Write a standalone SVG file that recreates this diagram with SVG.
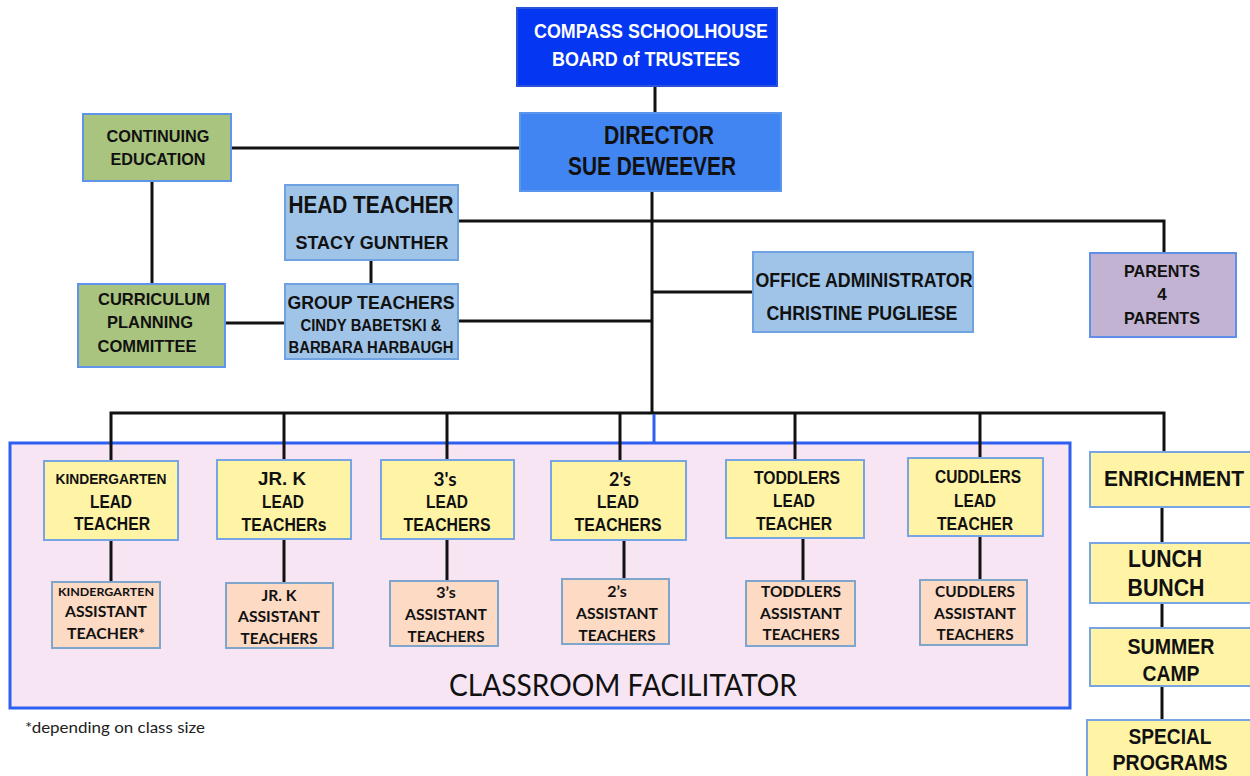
<svg xmlns="http://www.w3.org/2000/svg" width="1250" height="776" viewBox="0 0 1250 776">
  <style>
    .lbl { font-family: "Liberation Sans Narrow", "Liberation Sans", Arial, sans-serif; font-weight: bold; text-anchor: middle; fill: #111; }
    .cal { font-family: Lato, "Open Sans", "Liberation Sans", sans-serif; font-weight: bold; text-anchor: middle; fill: #111; }
    .wht { fill: #ffffff; }
    .board { fill: #0536f2; stroke: #2a52d6; stroke-width: 2; }
    .dir { fill: #4185f2; stroke: #5b95ee; stroke-width: 2; }
    .lblue { fill: #9fc4e7; stroke: #6fa2e0; stroke-width: 2; }
    .green { fill: #a9c47e; stroke: #5f94ea; stroke-width: 2; }
    .purple { fill: #c2b3d2; stroke: #5f8fe6; stroke-width: 2; }
    .yellow { fill: #fff4a6; stroke: #77a5e4; stroke-width: 2; }
    .peach { fill: #fcdac4; stroke: #7ea6cc; stroke-width: 2; }
    .wire { fill: none; stroke: #111; stroke-width: 3; }
  </style>

  <rect width="1250" height="776" fill="#ffffff"/>

  <!-- classroom frame -->
  <g id="classroom-frame">
    <rect x="10" y="443" width="1060" height="265" fill="#f7e5f4" stroke="#2f5ff0" stroke-width="3"/>
    <text x="623" y="696" font-family="Lato, 'Open Sans', 'Liberation Sans', sans-serif" font-size="30" text-anchor="middle" fill="#111" textLength="348" lengthAdjust="spacingAndGlyphs">CLASSROOM FACILITATOR</text>
  </g>

  <!-- connectors -->
  <g id="connectors">
    <path class="wire" d="M655 86 V113"/>
    <path class="wire" d="M231 148 H520"/>
    <path class="wire" d="M152 181 V284"/>
    <path class="wire" d="M225 323 H285"/>
    <path class="wire" d="M371 260 V284"/>
    <path class="wire" d="M458 221 H1164 V253"/>
    <path class="wire" d="M652 191 V413"/>
    <path class="wire" d="M652 292 H753"/>
    <path class="wire" d="M458 321 H652"/>
    <path class="wire" d="M111 461 V413 H1164 V452"/>
    <path class="wire" d="M284 413 V460"/>
    <path class="wire" d="M447 413 V460"/>
    <path class="wire" d="M620 413 V461"/>
    <path class="wire" d="M795 413 V460"/>
    <path class="wire" d="M980 413 V458"/>
    <path d="M654 414 V443" fill="none" stroke="#2f5ff0" stroke-width="3"/>
    <path class="wire" d="M111 540 V582"/>
    <path class="wire" d="M284 539 V583"/>
    <path class="wire" d="M447 539 V581"/>
    <path class="wire" d="M624 540 V579"/>
    <path class="wire" d="M803 538 V581"/>
    <path class="wire" d="M980 536 V580"/>
    <path class="wire" d="M1162 507 V720"/>
  </g>

  <g id="board">
    <rect class="board" x="517" y="8" width="260" height="78"/>
    <text class="lbl wht" x="651" y="38" font-size="21" textLength="234" lengthAdjust="spacingAndGlyphs">COMPASS SCHOOLHOUSE</text>
    <text class="lbl wht" x="646" y="66" font-size="21" textLength="188" lengthAdjust="spacingAndGlyphs">BOARD of TRUSTEES</text>
  </g>

  <g id="director">
    <rect class="dir" x="520" y="113" width="261" height="78"/>
    <text class="lbl" x="659" y="144" font-size="26" textLength="110" lengthAdjust="spacingAndGlyphs">DIRECTOR</text>
    <text class="lbl" x="652" y="175" font-size="26" textLength="168" lengthAdjust="spacingAndGlyphs">SUE DEWEEVER</text>
  </g>

  <g id="continuing-education">
    <rect class="green" x="83" y="114" width="148" height="67"/>
    <text class="lbl" x="158" y="142" font-size="17" textLength="103" lengthAdjust="spacingAndGlyphs">CONTINUING</text>
    <text class="lbl" x="158" y="165" font-size="17" textLength="95" lengthAdjust="spacingAndGlyphs">EDUCATION</text>
  </g>

  <g id="curriculum-committee">
    <rect class="green" x="78" y="284" width="147" height="83"/>
    <text class="lbl" x="154" y="305" font-size="17" textLength="112" lengthAdjust="spacingAndGlyphs">CURRICULUM</text>
    <text class="lbl" x="150" y="328" font-size="17" textLength="86" lengthAdjust="spacingAndGlyphs">PLANNING</text>
    <text class="lbl" x="147" y="352" font-size="17" textLength="99" lengthAdjust="spacingAndGlyphs">COMMITTEE</text>
  </g>

  <g id="head-teacher">
    <rect class="lblue" x="285" y="185" width="173" height="75"/>
    <text class="lbl" x="371" y="213" font-size="23" textLength="165" lengthAdjust="spacingAndGlyphs">HEAD TEACHER</text>
    <text class="lbl" x="372" y="249" font-size="19" textLength="153" lengthAdjust="spacingAndGlyphs">STACY GUNTHER</text>
  </g>

  <g id="group-teachers">
    <rect class="lblue" x="285" y="284" width="173" height="75"/>
    <text class="lbl" x="371" y="309" font-size="19" textLength="167" lengthAdjust="spacingAndGlyphs">GROUP TEACHERS</text>
    <text class="lbl" x="371" y="331" font-size="16" textLength="141" lengthAdjust="spacingAndGlyphs">CINDY BABETSKI &amp;</text>
    <text class="lbl" x="371" y="353" font-size="16" textLength="165" lengthAdjust="spacingAndGlyphs">BARBARA HARBAUGH</text>
  </g>

  <g id="office-administrator">
    <rect class="lblue" x="753" y="252" width="220" height="80"/>
    <text class="lbl" x="864" y="287" font-size="20" textLength="217" lengthAdjust="spacingAndGlyphs">OFFICE ADMINISTRATOR</text>
    <text class="lbl" x="862" y="320" font-size="20" textLength="191" lengthAdjust="spacingAndGlyphs">CHRISTINE PUGLIESE</text>
  </g>

  <g id="parents-4-parents">
    <rect class="purple" x="1090" y="253" width="146" height="84"/>
    <text class="lbl" x="1162" y="277" font-size="17" textLength="76" lengthAdjust="spacingAndGlyphs">PARENTS</text>
    <text class="lbl" x="1162" y="300" font-size="17">4</text>
    <text class="lbl" x="1162" y="324" font-size="17" textLength="76" lengthAdjust="spacingAndGlyphs">PARENTS</text>
  </g>

  <!-- lead teachers -->
  <g id="kindergarten-lead">
    <rect class="yellow" x="44" y="461" width="134" height="79"/>
    <text class="lbl" x="111" y="484" font-size="14" textLength="111" lengthAdjust="spacingAndGlyphs">KINDERGARTEN</text>
    <text class="lbl" x="111" y="508" font-size="18" textLength="42" lengthAdjust="spacingAndGlyphs">LEAD</text>
    <text class="lbl" x="112" y="530" font-size="18" textLength="76" lengthAdjust="spacingAndGlyphs">TEACHER</text>
  </g>
  <g id="jrk-lead">
    <rect class="yellow" x="217" y="460" width="134" height="79"/>
    <text class="lbl" x="282" y="485" font-size="18" textLength="48" lengthAdjust="spacingAndGlyphs">JR. K</text>
    <text class="lbl" x="283" y="508" font-size="18" textLength="42" lengthAdjust="spacingAndGlyphs">LEAD</text>
    <text class="lbl" x="284" y="531" font-size="18" textLength="85" lengthAdjust="spacingAndGlyphs">TEACHERs</text>
  </g>
  <g id="threes-lead">
    <rect class="yellow" x="381" y="460" width="133" height="79"/>
    <text class="cal" x="445" y="486" font-size="19">3's</text>
    <text class="lbl" x="447" y="508" font-size="18" textLength="42" lengthAdjust="spacingAndGlyphs">LEAD</text>
    <text class="lbl" x="447" y="531" font-size="18" textLength="87" lengthAdjust="spacingAndGlyphs">TEACHERS</text>
  </g>
  <g id="twos-lead">
    <rect class="yellow" x="551" y="461" width="135" height="79"/>
    <text class="cal" x="620" y="486" font-size="18">2's</text>
    <text class="lbl" x="618" y="508" font-size="18" textLength="42" lengthAdjust="spacingAndGlyphs">LEAD</text>
    <text class="lbl" x="618" y="531" font-size="18" textLength="87" lengthAdjust="spacingAndGlyphs">TEACHERS</text>
  </g>
  <g id="toddlers-lead">
    <rect class="yellow" x="726" y="460" width="138" height="78"/>
    <text class="lbl" x="797" y="484" font-size="18" textLength="86" lengthAdjust="spacingAndGlyphs">TODDLERS</text>
    <text class="lbl" x="794" y="507" font-size="18" textLength="42" lengthAdjust="spacingAndGlyphs">LEAD</text>
    <text class="lbl" x="794" y="530" font-size="18" textLength="76" lengthAdjust="spacingAndGlyphs">TEACHER</text>
  </g>
  <g id="cuddlers-lead">
    <rect class="yellow" x="908" y="458" width="135" height="78"/>
    <text class="lbl" x="978" y="483" font-size="18" textLength="86" lengthAdjust="spacingAndGlyphs">CUDDLERS</text>
    <text class="lbl" x="975" y="507" font-size="18" textLength="42" lengthAdjust="spacingAndGlyphs">LEAD</text>
    <text class="lbl" x="975" y="530" font-size="18" textLength="76" lengthAdjust="spacingAndGlyphs">TEACHER</text>
  </g>

  <!-- assistant teachers -->
  <g id="kindergarten-assistant">
    <rect class="peach" x="52" y="582" width="108" height="66"/>
    <text class="cal" x="106" y="596" font-size="11" textLength="96" lengthAdjust="spacingAndGlyphs">KINDERGARTEN</text>
    <text class="cal" x="106" y="617" font-size="15" textLength="82" lengthAdjust="spacingAndGlyphs">ASSISTANT</text>
    <text class="cal" x="106" y="639" font-size="15" textLength="78" lengthAdjust="spacingAndGlyphs">TEACHER*</text>
  </g>
  <g id="jrk-assistant">
    <rect class="peach" x="226" y="583" width="107" height="65"/>
    <text class="cal" x="279" y="601" font-size="15" textLength="35" lengthAdjust="spacingAndGlyphs">JR. K</text>
    <text class="cal" x="279" y="622" font-size="15" textLength="82" lengthAdjust="spacingAndGlyphs">ASSISTANT</text>
    <text class="cal" x="279" y="644" font-size="15" textLength="77" lengthAdjust="spacingAndGlyphs">TEACHERS</text>
  </g>
  <g id="threes-assistant">
    <rect class="peach" x="390" y="581" width="108" height="65"/>
    <text class="cal" x="446" y="598" font-size="16">3’s</text>
    <text class="cal" x="446" y="620" font-size="15" textLength="82" lengthAdjust="spacingAndGlyphs">ASSISTANT</text>
    <text class="cal" x="446" y="642" font-size="15" textLength="77" lengthAdjust="spacingAndGlyphs">TEACHERS</text>
  </g>
  <g id="twos-assistant">
    <rect class="peach" x="562" y="579" width="107" height="65"/>
    <text class="cal" x="617" y="597" font-size="16">2’s</text>
    <text class="cal" x="617" y="619" font-size="15" textLength="82" lengthAdjust="spacingAndGlyphs">ASSISTANT</text>
    <text class="cal" x="617" y="641" font-size="15" textLength="77" lengthAdjust="spacingAndGlyphs">TEACHERS</text>
  </g>
  <g id="toddlers-assistant">
    <rect class="peach" x="746" y="581" width="109" height="65"/>
    <text class="cal" x="801" y="597" font-size="15" textLength="80" lengthAdjust="spacingAndGlyphs">TODDLERS</text>
    <text class="cal" x="801" y="619" font-size="15" textLength="82" lengthAdjust="spacingAndGlyphs">ASSISTANT</text>
    <text class="cal" x="801" y="640" font-size="15" textLength="77" lengthAdjust="spacingAndGlyphs">TEACHERS</text>
  </g>
  <g id="cuddlers-assistant">
    <rect class="peach" x="920" y="580" width="107" height="65"/>
    <text class="cal" x="975" y="597" font-size="15" textLength="80" lengthAdjust="spacingAndGlyphs">CUDDLERS</text>
    <text class="cal" x="975" y="619" font-size="15" textLength="82" lengthAdjust="spacingAndGlyphs">ASSISTANT</text>
    <text class="cal" x="975" y="640" font-size="15" textLength="77" lengthAdjust="spacingAndGlyphs">TEACHERS</text>
  </g>

  <!-- programs column -->
  <g id="enrichment">
    <rect class="yellow" x="1090" y="452" width="170" height="55"/>
    <text class="lbl" x="1174" y="486" font-size="22" textLength="140" lengthAdjust="spacingAndGlyphs">ENRICHMENT</text>
  </g>
  <g id="lunch-bunch">
    <rect class="yellow" x="1090" y="543" width="170" height="60"/>
    <text class="lbl" x="1165" y="567" font-size="24" textLength="74" lengthAdjust="spacingAndGlyphs">LUNCH</text>
    <text class="lbl" x="1166" y="596" font-size="24" textLength="77" lengthAdjust="spacingAndGlyphs">BUNCH</text>
  </g>
  <g id="summer-camp">
    <rect class="yellow" x="1090" y="628" width="170" height="58"/>
    <text class="lbl" x="1171" y="654" font-size="22" textLength="87" lengthAdjust="spacingAndGlyphs">SUMMER</text>
    <text class="lbl" x="1171" y="681" font-size="22" textLength="57" lengthAdjust="spacingAndGlyphs">CAMP</text>
  </g>
  <g id="special-programs">
    <rect class="yellow" x="1087" y="720" width="173" height="70"/>
    <text class="lbl" x="1170" y="744" font-size="22" textLength="83" lengthAdjust="spacingAndGlyphs">SPECIAL</text>
    <text class="lbl" x="1170" y="770" font-size="22" textLength="115" lengthAdjust="spacingAndGlyphs">PROGRAMS</text>
  </g>

  <text x="25" y="733" font-family="Lato, 'Open Sans', 'Liberation Sans', sans-serif" font-size="15" fill="#222" textLength="180" lengthAdjust="spacingAndGlyphs">*depending on class size</text>
</svg>
